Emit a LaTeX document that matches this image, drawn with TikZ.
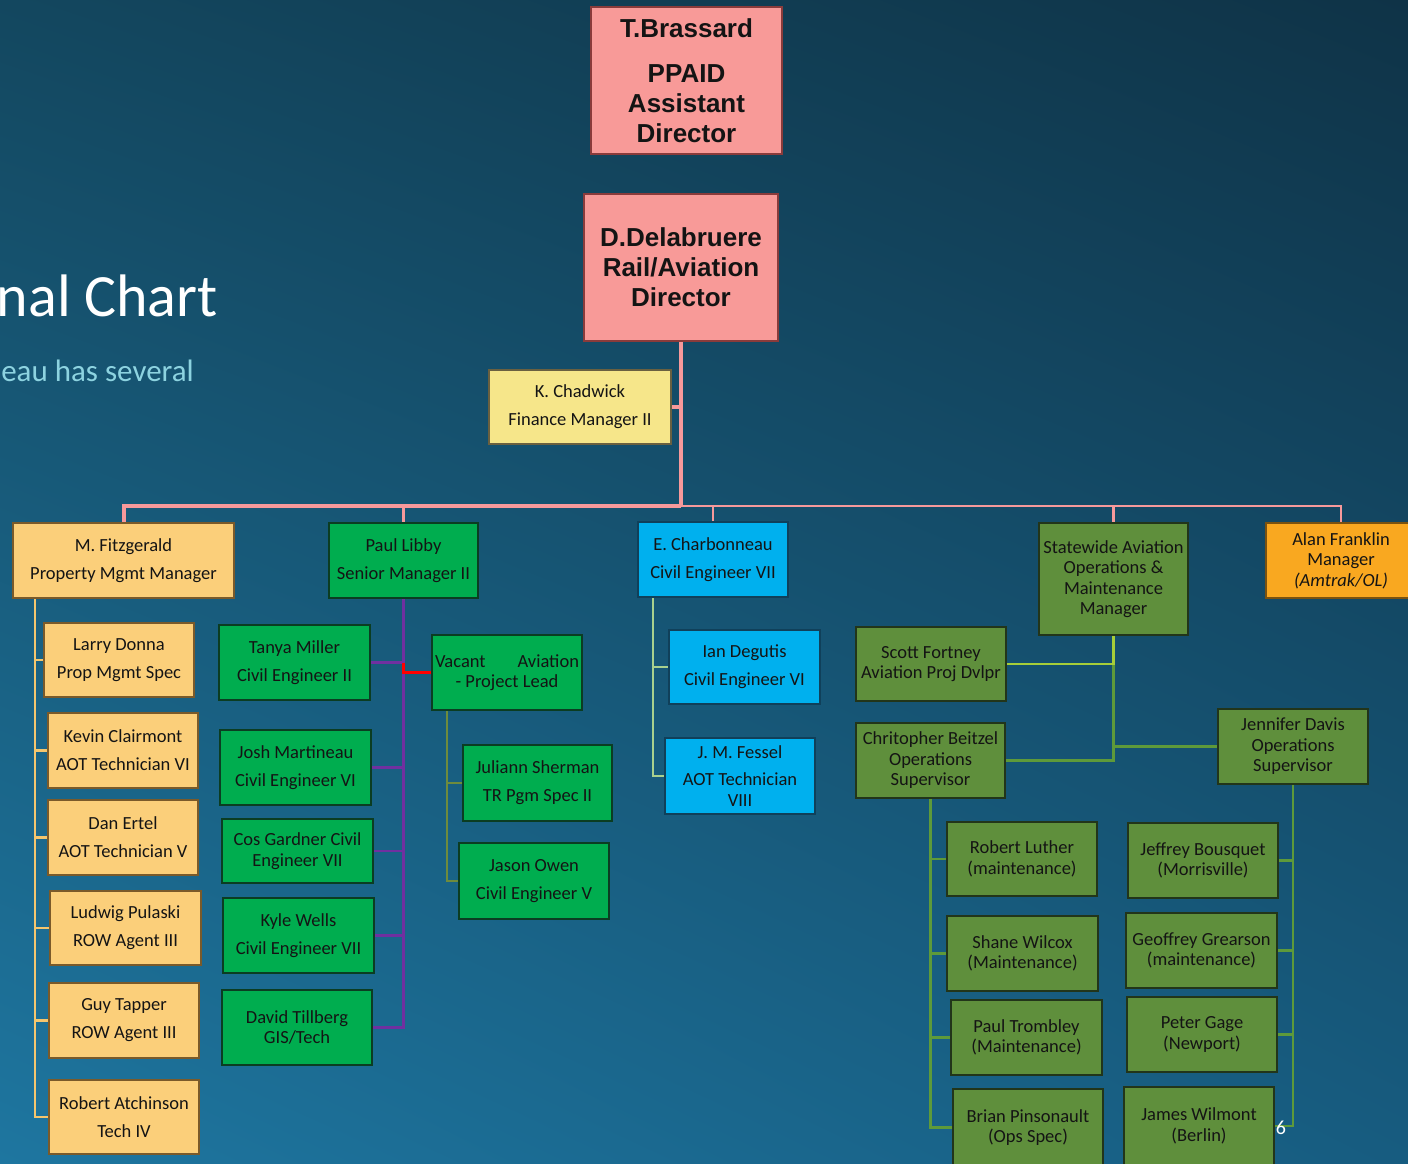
\documentclass[tikz,border=0pt]{standalone}
\usepackage{fontspec}
\setmainfont{Carlito}
\newfontfamily\arialb{Liberation Sans}
\usetikzlibrary{calc,shadings}
\pgfdeclarelayer{bg}
\pgfdeclarelayer{lines}
\pgfsetlayers{bg,lines,main}
\definecolor{bgUL}{HTML}{13475F}
\definecolor{bgUR}{HTML}{0F3347}
\definecolor{bgLL}{HTML}{1E76A0}
\definecolor{bgLR}{HTML}{175C80}
\definecolor{pinkf}{HTML}{F89A98}
\definecolor{pinkd}{HTML}{8A3B3B}
\definecolor{pinkl}{HTML}{F7999B}
\definecolor{yelf}{HTML}{F6E68A}
\definecolor{yeld}{HTML}{6A6040}
\definecolor{lorf}{HTML}{FBCF7A}
\definecolor{lord}{HTML}{7A5A2A}
\definecolor{grnf}{HTML}{00AD4F}
\definecolor{grnd}{HTML}{0B3D22}
\definecolor{cyaf}{HTML}{00B0EE}
\definecolor{cyad}{HTML}{10405A}
\definecolor{olvf}{HTML}{5F8F3C}
\definecolor{olvd}{HTML}{22351A}
\definecolor{orgf}{HTML}{F9A820}
\definecolor{orgd}{HTML}{7A5210}
\definecolor{lorl}{HTML}{F5C66E}
\definecolor{purl}{HTML}{7030A0}
\definecolor{vacl}{HTML}{6E8B3D}
\definecolor{cyal}{HTML}{A9D18E}
\definecolor{brtl}{HTML}{A6CE39}
\definecolor{olvl}{HTML}{5E9A3A}
\definecolor{subc}{HTML}{8DD3E0}
\definecolor{txt}{HTML}{141414}
\newcommand\bx[7]{\node[box,#2,minimum width={(#5)-(#3)},minimum height={(#6)-(#4)}] (#1) at ({((#3)+(#5))/2},{((#4)+(#6))/2}) {#7};}
\begin{document}
\begin{tikzpicture}[x=1pt,y=-1pt,
  box/.style={draw,line width=1.3pt,inner sep=0pt,outer sep=0pt,align=center,text=txt,font=\fontsize{18.5}{28}\selectfont},
  tight/.style={font=\fontsize{18.5}{20.5}\selectfont},
  pinkbox/.style={fill=pinkf,draw=pinkd,font=\arialb\bfseries\fontsize{26}{30}\selectfont},
  ybox/.style={fill=yelf,draw=yeld},
  lobox/.style={fill=lorf,draw=lord},
  gbox/.style={fill=grnf,draw=grnd},
  cbox/.style={fill=cyaf,draw=cyad},
  obox/.style={fill=olvf,draw=olvd},
  abox/.style={fill=orgf,draw=orgd},
  pinkthick/.style={draw=pinkl,line width=4pt},
  pinkthin/.style={draw=pinkl,line width=2.6pt},
  conn/.style={line width=2.6pt},
]
\useasboundingbox (0,0) rectangle (1408,1163);
\clip (0,0) rectangle (1408,1163);
\begin{pgfonlayer}{bg}
\shade[upper left=bgUL,upper right=bgUR,lower left=bgLL,lower right=bgLR] (0,0) rectangle (1408,1163);
\end{pgfonlayer}

% title text
\node[anchor=base east,text=white,font=\fontsize{60}{60}\selectfont,inner sep=0pt] (title) at (218,316) {nal Chart};
\node[anchor=base east,text=subc,font=\fontsize{31}{31}\selectfont,inner sep=0pt] (subtitle) at (194,381) {eau has several};
\node[anchor=base,text=white!90,font=\fontsize{20}{20}\selectfont,inner sep=0pt] (pagenum) at (1281,1134) {6};

% boxes
\bx{brassard}{pinkbox}{591}{7}{782}{154}{T.Brassard\\[15pt]PPAID\\Assistant\\Director}
\bx{dela}{pinkbox}{584}{194}{778}{341}{D.Delabruere\\Rail/Aviation\\Director}
\bx{chad}{ybox}{489}{370}{671}{444}{K. Chadwick\\Finance Manager II}
\bx{fitz}{lobox}{13}{523}{234}{598}{M. Fitzgerald\\Property Mgmt Manager}
\bx{libby}{gbox}{329}{523}{478}{598}{Paul Libby\\Senior Manager II}
\bx{charb}{cbox}{638}{522}{788}{597}{E. Charbonneau\\Civil Engineer VII}
\bx{statewide}{obox,tight}{1039}{523}{1188}{635}{Statewide Aviation\\Operations \&\\Maintenance\\Manager}
\bx{alan}{abox,tight}{1266}{523}{1416}{598}{Alan Franklin\\Manager\\\textit{(Amtrak/OL)}}

\bx{larry}{lobox}{44}{623}{194}{697}{Larry Donna\\Prop Mgmt Spec}
\bx{kevin}{lobox}{48}{713}{198}{788}{Kevin Clairmont\\AOT Technician VI}
\bx{dan}{lobox}{48}{800}{198}{875}{Dan Ertel\\AOT Technician V}
\bx{ludwig}{lobox}{50}{891}{201}{965}{Ludwig Pulaski\\ROW Agent III}
\bx{guy}{lobox}{49}{983}{199}{1058}{Guy Tapper\\ROW Agent III}
\bx{atch}{lobox}{49}{1080}{199}{1154}{Robert Atchinson\\Tech IV}

\bx{tanya}{gbox}{219}{625}{370}{700}{Tanya Miller\\Civil Engineer II}
\bx{josh}{gbox}{220}{730}{371}{805}{Josh Martineau\\Civil Engineer VI}
\bx{cos}{gbox,tight}{222}{819}{373}{883}{Cos Gardner Civil\\Engineer VII}
\bx{kyle}{gbox}{223}{898}{374}{973}{Kyle Wells\\Civil Engineer VII}
\bx{david}{gbox,tight}{222}{990}{372}{1065}{David Tillberg\\GIS/Tech}
\bx{vacant}{gbox,tight}{432}{635}{582}{710}{\makebox[144pt]{Vacant\hfill Aviation}\\- Project Lead}
\bx{julian}{gbox}{463}{745}{612}{821}{Juliann Sherman\\TR Pgm Spec II}
\bx{jason}{gbox}{459}{843}{609}{919}{Jason Owen\\Civil Engineer V}

\bx{ian}{cbox}{669}{630}{820}{704}{Ian Degutis\\Civil Engineer VI}
\bx{fessel}{cbox,tight}{665}{738}{815}{814}{J. M. Fessel\\[7pt]AOT Technician\\VIII}

\bx{scott}{obox,tight}{856}{627}{1006}{701}{Scott Fortney\\Aviation Proj Dvlpr}
\bx{beitzel}{obox,tight}{856}{723}{1005}{798}{Chritopher Beitzel\\Operations\\Supervisor}
\bx{jennifer}{obox,tight}{1218}{709}{1368}{784}{Jennifer Davis\\Operations\\Supervisor}
\bx{luther}{obox,tight}{947}{822}{1097}{896}{Robert Luther\\(maintenance)}
\bx{shane}{obox,tight}{947}{916}{1098}{991}{Shane Wilcox\\(Maintenance)}
\bx{trombley}{obox,tight}{951}{1000}{1102}{1075}{Paul Trombley\\(Maintenance)}
\bx{brian}{obox,tight}{953}{1089}{1103}{1166}{Brian Pinsonault\\(Ops Spec)}
\bx{jeffrey}{obox,tight}{1128}{823}{1278}{898}{Jeffrey Bousquet\\(Morrisville)}
\bx{geoffrey}{obox,tight}{1126}{913}{1277}{988}{Geoffrey Grearson\\(maintenance)}
\bx{peter}{obox,tight}{1127}{997}{1277}{1072}{Peter Gage\\(Newport)}
\bx{james}{obox,tight}{1124}{1087}{1274}{1165}{James Wilmont\\(Berlin)}

% connectors (behind boxes)
\coordinate (bus) at (681,506);
\coordinate (fzl) at ($(fitz.south west)+(22,0)$);
\coordinate (vcl) at ($(vacant.south west)+(15,0)$);
\coordinate (chl) at ($(charb.south west)+(15,0)$);
\begin{pgfonlayer}{lines}
\draw[pinkthin] (bus) -| (libby.north);
\draw[pinkthin] (bus) -| (charb.north);
\draw[pinkthin] (bus) -| (statewide.north);
\draw[pinkthin] (bus) -| (alan.north);
\draw[pinkthick] (dela.south) -- (bus);
\draw[pinkthick] (bus) -| (fitz.north);
\draw[pinkthick] (chad.east) -- (chad.east -| dela.south);
\foreach \n in {larry,kevin,dan,ludwig,guy,atch}
  \draw[conn,draw=lorl] (fzl) |- (\n.west);
\foreach \n in {tanya,josh,cos,kyle,david}
  \draw[conn,draw=purl] (libby.south) |- (\n.east);
\draw[conn,draw=red] (libby.south |- tanya.east) |- (vacant.west);
\foreach \n in {julian,jason}
  \draw[conn,draw=vacl] (vcl) |- (\n.west);
\foreach \n in {ian,fessel}
  \draw[conn,draw=cyal] (chl) |- (\n.west);
\draw[conn,draw=olvl] (statewide.south |- scott.east) |- (beitzel.east);
\draw[conn,draw=olvl] (statewide.south |- jennifer.west) -- (jennifer.west);
\draw[conn,draw=brtl] (statewide.south) |- (scott.east);
\foreach \n in {luther,shane,trombley,brian}
  \draw[conn,draw=olvl] (beitzel.south) |- (\n.west);
\foreach \n in {jeffrey,geoffrey,peter,james}
  \draw[conn,draw=olvl] (jennifer.south) |- (\n.east);
\end{pgfonlayer}
\end{tikzpicture}
\end{document}
